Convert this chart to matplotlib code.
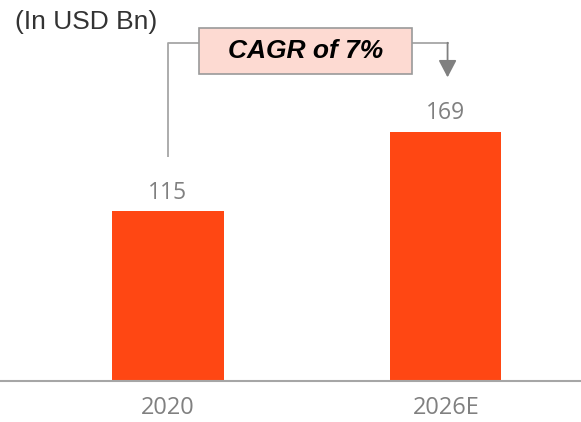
import matplotlib.pyplot as plt
from matplotlib.patches import Rectangle

years = ["2020", "2026E"]
market_size = [115, 169]
cagr_label = "CAGR of 7%"
unit_label = "(In USD Bn)"

bar_color = "#FF4713"
grey = "#A6A6A6"
label_grey = "#808080"

fig = plt.figure(figsize=(5.81, 4.22), dpi=100)
ax = fig.add_axes([0, 0.0972, 1, 0.9028])

x = list(range(len(years)))
ax.bar(x, market_size, width=0.4, color=bar_color, zorder=2)

for xi, v in zip(x, market_size):
    ax.annotate(str(v), (xi, v), xytext=(0, 5), textcoords="offset points",
                ha="center", va="bottom", fontsize=16.5, color=label_grey,
                family="Open Sans")

ax.set_xlim(-0.604, 1.486)
ax.set_ylim(0, 258.5)
ax.set_xticks(x)
ax.set_xticklabels(years, fontsize=17, color=label_grey, family="Open Sans")
ax.tick_params(axis="x", length=0, pad=11)
ax.set_yticks([])
for side in ["top", "right", "left"]:
    ax.spines[side].set_visible(False)
ax.spines["bottom"].set_color(grey)
ax.spines["bottom"].set_linewidth(1.5)

# growth bracket from the first bar to the second
top = 229.5
box_left, box_right = 0.112, 0.878
box_bottom, box_top = 208.3, 239.5
ax.plot([x[0], x[0], box_left], [market_size[0] + 37, top, top],
        color=grey, lw=1.3, solid_capstyle="butt")
ax.plot([box_right, x[1] + 0.006], [top, top], color=grey, lw=1.3)
ax.annotate("", xy=(x[1] + 0.006, 206), xytext=(x[1] + 0.006, top),
            arrowprops=dict(arrowstyle="-|>,head_length=1.05,head_width=0.55",
                            color="#808080", lw=1.3, shrinkA=0, shrinkB=0))
ax.add_patch(Rectangle((box_left, box_bottom), box_right - box_left,
                       box_top - box_bottom, facecolor="#FDDAD2",
                       edgecolor="#9A9A9A", lw=1.2, zorder=3))
ax.text((box_left + box_right) / 2, (box_bottom + box_top) / 2, cagr_label,
        ha="center", va="center", fontsize=19, fontweight="bold",
        fontstyle="italic", family="Liberation Sans", color="black", zorder=4)

fig.text(15 / 581, 0.932, unit_label, ha="left", va="baseline",
         fontsize=19, family="Liberation Sans", color="#333333")

fig.savefig("out.png", dpi=100)
